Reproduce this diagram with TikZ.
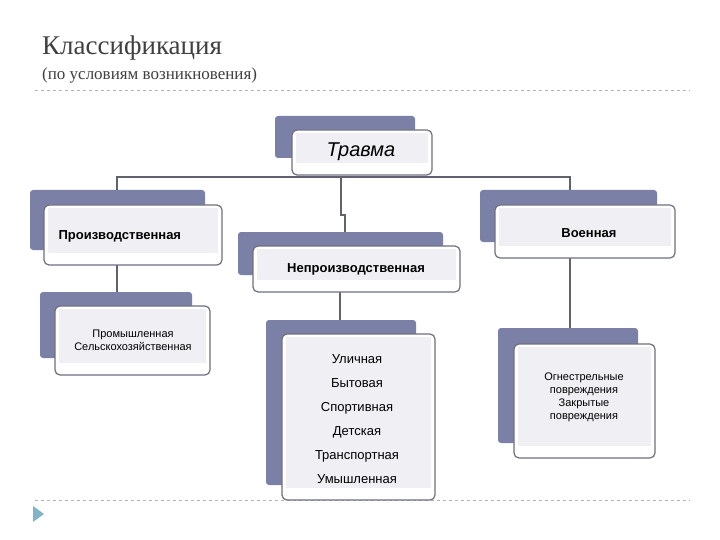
\documentclass[tikz,border=0pt]{standalone}
\usepackage{fontspec}
\setmainfont{Liberation Sans}
\newfontfamily\serifont{Liberation Serif}
\definecolor{slate}{HTML}{7A80A6}
\definecolor{inner}{HTML}{EFEFF4}
\definecolor{edge}{HTML}{6E7080}
\definecolor{conn}{HTML}{606270}
\tikzset{x=1pt,y=-1pt,
 backbox/.style={fill=slate,rounded corners=3pt},
 frontbox/.style={draw=edge,line width=1.2pt,fill=white,rounded corners=5pt},
 innerbox/.style={fill=inner},
 cn/.style={draw=conn,line width=1.3pt},
 lbl/.style={font=\fontsize{13}{15}\selectfont\bfseries,text=black},
 lst/.style={font=\fontsize{13}{24}\selectfont,align=center,text=black},
 sml/.style={font=\fontsize{11}{13}\selectfont,align=center,text=black}}
\newcommand\tbox[9]{% name, bx1,by1,bx2,by2, fx1,fy1,fx2,fy2
 \fill[backbox] (#2,#3) rectangle (#4,#5);
 \draw[frontbox] (#6,#7) rectangle (#8,#9);
 \fill[innerbox] (#6+4,#7+3) rectangle (#8-4,#9-12);
 \coordinate (#1) at ({(#6+#8)/2},{(#7+#9)/2});}
\begin{document}
\begin{tikzpicture}
\useasboundingbox (0,0) rectangle (720,540);
\fill[white] (0,0) rectangle (720,540);
\node[anchor=base west,inner sep=0,font=\serifont\fontsize{27}{28}\selectfont,text=black!75] (t1) at (42,55) {Классификация};
\node[anchor=base west,inner sep=0,font=\serifont\fontsize{17}{18}\selectfont,text=black!75] (t2) at (42,80) {(по условиям возникновения)};
\draw[gray!60,dashed,line width=0.6pt] (35,90) -- (690,90);
\draw[gray!60,dashed,line width=0.6pt] (35,500) -- (690,500);
\fill[blue!30!cyan!40!gray!70] (33,506) -- (44,514) -- (33,522) -- cycle;
% connectors
\coordinate (j1) at (117,177); \coordinate (j2) at (570,177);
\coordinate (c1) at (341,177); \coordinate (c2) at (341,215); \coordinate (c3) at (345,215); \coordinate (c4) at (345,232);
\draw[cn] (117,190) -- (j1) -- (j2) -- (570,190);
\draw[cn] (c1) -- (c2) -- (c3) -- (c4);
\draw[cn] (117,265) -- (117,292);
\draw[cn] (340,292) -- (340,320);
\draw[cn] (570,258) -- (570,328);
% boxes
\tbox{tr}{275}{116}{415}{158}{292}{130}{432}{175}
\tbox{pr}{30}{190}{205}{250}{44}{205}{222}{265}
\tbox{vo}{480}{190}{657}{242}{495}{205}{675}{258}
\tbox{np}{238}{232}{443}{275}{253}{246}{460}{292}
\tbox{pm}{40}{292}{192}{358}{55}{306}{210}{375}
\tbox{ul}{266}{320}{416}{485}{282}{334}{435}{500}
\tbox{og}{498}{328}{638}{443}{514}{344}{655}{458}
\node[font=\fontsize{20}{22}\selectfont\itshape] (trt) at (361,152) {Травма};
\node[lbl,anchor=west] (prt) at (55,236) {Производственная};
\node[lbl,anchor=east] (vot) at (620,233) {Военная};
\node[lbl] (npt) at (356,269) {Непроизводственная};
\node[sml] (pmt) at (133,340) {Промышленная\\Сельскохозяйственная};
\node[lst] (ult) at (357,419) {Уличная\\Бытовая\\Спортивная\\Детская\\Транспортная\\Умышленная};
\node[sml] (ogt) at (584,397) {Огнестрельные\\повреждения\\Закрытые\\повреждения};
\end{tikzpicture}
\end{document}
